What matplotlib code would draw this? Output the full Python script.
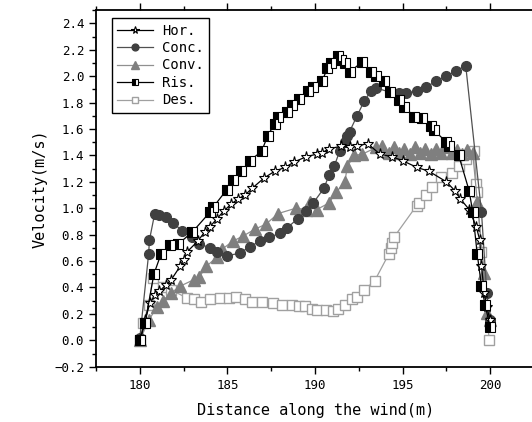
import matplotlib
matplotlib.use("Agg")
import matplotlib.pyplot as plt
from matplotlib.ticker import MultipleLocator

# Hor. (open stars)
hor_x = [180.0, 180.3, 180.57, 180.85, 181.1, 181.5, 181.8, 182.3, 182.5, 182.7, 183.3, 183.7,
         184.0, 184.4, 184.8, 185.2, 185.6, 186.0, 186.4, 187.1, 187.7, 188.3, 188.8, 189.5,
         190.1, 190.4, 190.8, 191.5, 192.0, 192.4, 193.0, 193.7, 194.4, 195.0, 195.8, 196.5,
         197.5, 198.0, 198.3, 198.8, 199.2, 199.4, 199.5, 199.66, 199.8, 200.0]
hor_y = [0.0, 0.15, 0.28, 0.34, 0.37, 0.42, 0.46, 0.56, 0.61, 0.67, 0.75, 0.82,
         0.86, 0.92, 0.98, 1.03, 1.07, 1.10, 1.15, 1.23, 1.28, 1.31, 1.35, 1.39,
         1.41, 1.42, 1.45, 1.47, 1.46, 1.47, 1.49, 1.41, 1.39, 1.36, 1.31, 1.28,
         1.20, 1.13, 1.07, 0.99, 0.86, 0.76, 0.56, 0.36, 0.25, 0.15]

# Conc. (dark grey circles)
conc_x = [180.0, 180.5, 180.55, 180.85, 181.1, 181.5, 181.9, 182.4, 182.96, 183.4, 184.0,
          184.4, 185.0, 185.7, 186.3, 186.84, 187.4, 187.98, 188.4, 189.0, 189.5, 189.9,
          190.5, 190.8, 191.1, 191.4, 191.7, 191.85, 191.97, 192.4, 192.8, 193.2, 193.5,
          194.25, 194.8, 195.2, 195.8, 196.35, 196.9, 197.5, 198.06, 198.6, 199.5, 199.8,
          200.0]
conc_y = [0.02, 0.65, 0.76, 0.96, 0.95, 0.93, 0.89, 0.83, 0.78, 0.73, 0.70,
          0.67, 0.64, 0.66, 0.71, 0.75, 0.78, 0.81, 0.85, 0.92, 0.98, 1.04,
          1.15, 1.25, 1.32, 1.43, 1.50, 1.55, 1.58, 1.70, 1.81, 1.89, 1.91,
          1.88, 1.87, 1.87, 1.89, 1.92, 1.96, 2.00, 2.04, 2.08, 0.97, 0.36,
          0.15]

# Conv. (grey triangles)
conv_x = [180.0, 180.5, 180.97, 181.3, 181.8, 182.3, 183.1, 183.4, 183.8, 184.4, 184.7,
          185.3, 185.9, 186.55, 187.2, 187.9, 188.9, 189.5, 189.7, 190.1, 190.8, 191.2,
          191.7, 191.85, 192.25, 192.7, 193.5, 193.85, 194.2, 194.5, 194.8, 195.1, 195.4,
          195.7, 196.0, 196.3, 196.6, 196.9, 197.2, 197.5, 197.8, 198.1, 198.4, 198.7,
          199.0, 199.26, 199.66, 199.8, 200.0]
conv_y = [0.0, 0.15, 0.25, 0.30, 0.36, 0.41, 0.46, 0.48, 0.56, 0.63, 0.69,
          0.75, 0.79, 0.84, 0.88, 0.96, 1.00, 0.99, 1.05, 0.99, 1.04, 1.12,
          1.20, 1.32, 1.40, 1.41, 1.46, 1.47, 1.42, 1.46, 1.42, 1.45, 1.41,
          1.46, 1.42, 1.45, 1.41, 1.45, 1.42, 1.46, 1.42, 1.44, 1.41, 1.44,
          1.42, 1.05, 0.51, 0.21, 0.15]

# Ris. (half-filled squares)
ris_x = [180.0, 180.3, 180.8, 181.2, 181.7, 182.2, 183.0, 184.0, 184.2, 184.96, 185.3,
         185.8, 186.27, 186.95, 187.3, 187.7, 187.9, 188.4, 188.7, 189.1, 189.6, 189.9,
         190.4, 190.7, 190.9, 191.3, 191.5, 191.7, 191.97, 192.7, 193.2, 193.5, 193.96,
         194.25, 194.8, 195.1, 195.67, 196.1, 196.6, 196.8, 197.5, 197.66, 198.2, 198.8,
         199.0, 199.26, 199.5, 199.7, 200.0]
ris_y = [0.0, 0.13, 0.50, 0.65, 0.72, 0.73, 0.82, 0.97, 1.01, 1.14, 1.21,
         1.28, 1.36, 1.43, 1.55, 1.64, 1.69, 1.73, 1.78, 1.83, 1.89, 1.92,
         1.96, 2.06, 2.10, 2.15, 2.12, 2.10, 2.03, 2.11, 2.03, 2.00, 1.96,
         1.88, 1.82, 1.77, 1.69, 1.68, 1.62, 1.59, 1.50, 1.47, 1.40, 1.13,
         0.97, 0.65, 0.41, 0.27, 0.10]

# Des. (open light grey squares)
des_x = [180.0, 180.2, 180.5, 180.75, 181.3, 181.8, 182.7, 183.1, 183.5, 184.0, 184.6,
         185.1, 185.5, 186.0, 186.4, 187.0, 187.6, 188.1, 188.7, 189.1, 189.4, 189.8,
         190.1, 190.6, 191.0, 191.3, 191.7, 192.1, 192.4, 192.8, 193.4, 194.2, 194.36,
         194.4, 194.5, 195.8, 195.95, 196.35, 196.7, 197.2, 197.8, 198.2, 198.6, 199.1,
         199.2, 199.25, 199.5, 199.94]
des_y = [0.0, 0.13, 0.27, 0.47, 0.40, 0.38, 0.32, 0.31, 0.29, 0.31, 0.32,
         0.32, 0.33, 0.31, 0.29, 0.29, 0.28, 0.27, 0.27, 0.26, 0.26, 0.24,
         0.23, 0.23, 0.22, 0.24, 0.27, 0.31, 0.33, 0.38, 0.45, 0.65, 0.70,
         0.74, 0.78, 1.02, 1.04, 1.10, 1.16, 1.24, 1.27, 1.32, 1.37, 1.43,
         1.18, 1.12, 0.67, 0.0]

plt.rcParams["font.family"] = ["DejaVu Sans Mono"]

fig = plt.figure(figsize=(5.32, 4.22), dpi=100)
ax = fig.add_axes([0.1805, 0.131, 0.825, 0.845])

ax.plot(des_x, des_y, color="#a0a0a0", lw=0.9, marker="s", ms=6.5,
        mfc="white", mec="#a0a0a0", mew=1.0, label="Des.", zorder=2)
ax.plot(conv_x, conv_y, color="#909090", lw=0.9, marker="^", ms=8,
        mfc="#7f7f7f", mec="#7f7f7f", label="Conv.", zorder=3)
ax.plot(conc_x, conc_y, color="#505050", lw=0.9, marker="o", ms=7,
        mfc="#404040", mec="#404040", label="Conc.", zorder=4)
ax.plot(hor_x, hor_y, color="black", lw=0.9, marker="*", ms=8,
        mfc="white", mec="black", mew=0.8, label="Hor.", zorder=5)
ax.plot(ris_x, ris_y, color="black", lw=0.9, marker="s", ms=6.5,
        fillstyle="left", mfc="black", mfcalt="white", mec="black", mew=0.8,
        label="Ris.", zorder=6)

ax.set_xlim(177.5, 202.55)
ax.set_ylim(-0.2, 2.5)
ax.xaxis.set_major_locator(MultipleLocator(5))
ax.xaxis.set_minor_locator(MultipleLocator(2.5))
ax.yaxis.set_major_locator(MultipleLocator(0.2))
ax.yaxis.set_minor_locator(MultipleLocator(0.1))
ax.yaxis.set_major_formatter(plt.FuncFormatter(lambda v, p: f"{v:.1f}".replace("-", "\u2212")))

ax.tick_params(which="both", direction="out", top=True, labelsize=9, width=1.0)
ax.tick_params(which="major", length=5)
ax.tick_params(which="minor", length=3)
for s in ax.spines.values():
    s.set_linewidth(1.3)
ax.spines["right"].set_visible(False)

ax.set_xlabel("Distance along the wind(m)", fontsize=11, labelpad=8)
ax.set_ylabel("Velocity(m/s)", fontsize=11, labelpad=5)

handles, labels = ax.get_legend_handles_labels()
order = ["Hor.", "Conc.", "Conv.", "Ris.", "Des."]
hmap = dict(zip(labels, handles))
leg = ax.legend([hmap[k] for k in order], order, loc="upper left",
                bbox_to_anchor=(0.036, 0.978), borderaxespad=0, fontsize=10,
                markerscale=0.7, frameon=True, fancybox=False, edgecolor="black",
                framealpha=1, handlelength=2.6, handletextpad=0.6,
                labelspacing=0.25, borderpad=0.4)
leg.get_frame().set_linewidth(1.0)

fig.savefig("out.png", dpi=100)
